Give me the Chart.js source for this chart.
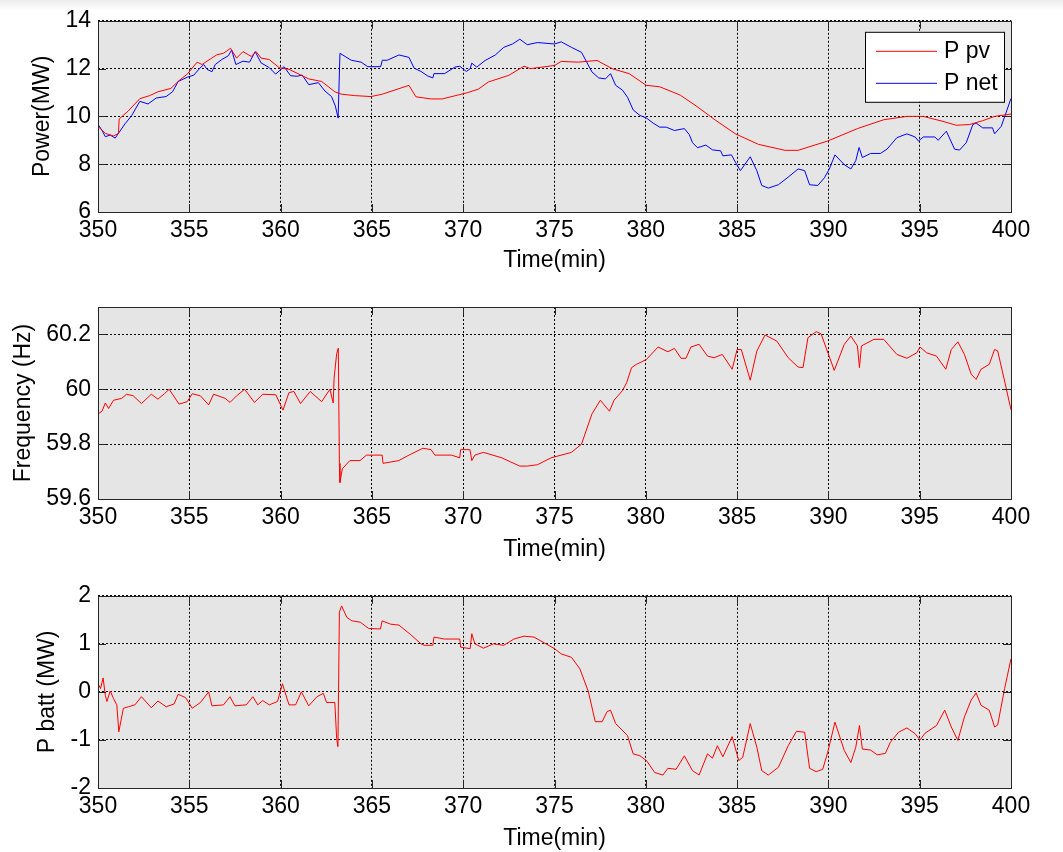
<!DOCTYPE html>
<html>
<head>
<meta charset="utf-8">
<script src="https://cdn.jsdelivr.net/npm/chart.js@4.4.0/dist/chart.umd.min.js"></script>
<style>
  body { margin: 0; background: linear-gradient(#ececec, #ffffff 10px); }
  #wrap { position: relative; width: 1063px; height: 852px; }
  canvas { position: absolute; left: 0; }
</style>
</head>
<body>
<div id="wrap">
  <canvas id="power" width="1063" height="285" style="top:0px"></canvas>
  <canvas id="freq" width="1063" height="290" style="top:285px"></canvas>
  <canvas id="batt" width="1063" height="277" style="top:575px"></canvas>
</div>
<script>
// values (time in min)
var pvTime = [350, 350.4, 350.85, 351.12, 351.16, 351.66, 352.29, 352.83, 353.28, 353.99, 354.44, 354.89, 355.43, 355.7, 355.97, 356.51, 356.87, 357.26, 357.59, 357.94, 358.39, 358.66, 358.93, 359.38, 359.92, 360.46, 361.0, 361.54, 362.25, 362.97, 363.33, 364.05, 364.95, 365.57, 367.03, 367.41, 368.24, 368.85, 370.27, 370.83, 371.38, 372.5, 373.33, 373.69, 375.0, 375.37, 376.3, 377.33, 378.18, 379.09, 380.02, 380.76, 381.89, 382.81, 383.78, 384.91, 386.17, 387.62, 388.34, 389.96, 391.59, 393.03, 394.3, 395.2, 396.28, 397.0, 397.73, 398.45, 399.1, 400];
var pvPower = [9.58, 9.29, 9.18, 9.29, 9.89, 10.23, 10.74, 10.87, 11.03, 11.17, 11.5, 11.77, 12.27, 12.17, 12.31, 12.58, 12.64, 12.85, 12.44, 12.71, 12.51, 12.71, 12.44, 12.38, 12.04, 11.97, 11.77, 11.57, 11.46, 11.03, 10.93, 10.87, 10.83, 10.93, 11.3, 10.82, 10.73, 10.73, 11.0, 11.14, 11.44, 11.72, 12.1, 12.0, 12.13, 12.3, 12.27, 12.34, 11.99, 11.79, 11.3, 11.24, 10.89, 10.41, 9.86, 9.27, 8.83, 8.58, 8.58, 8.97, 9.49, 9.86, 10.0, 10.0, 9.79, 9.63, 9.66, 9.82, 10.0, 10.1];

var netTime = [350, 350.22, 350.4, 350.67, 350.94, 351.12, 351.48, 351.84, 352.29, 352.74, 353.19, 353.73, 354.08, 354.39, 354.89, 355.25, 355.52, 355.79, 355.97, 356.24, 356.42, 356.78, 357.14, 357.32, 357.55, 357.94, 358.3, 358.61, 358.93, 359.38, 359.73, 360.19, 360.55, 360.91, 361.18, 361.54, 362.07, 362.43, 362.79, 363.0, 363.15, 363.25, 363.87, 364.41, 364.77, 365.48, 365.57, 365.84, 366.48, 367.03, 367.31, 367.69, 368.06, 368.34, 368.4, 368.98, 369.54, 369.81, 370.17, 370.38, 370.47, 370.74, 371.2, 371.76, 372.22, 372.7, 373.1, 373.51, 374.07, 375.0, 375.37, 375.93, 376.48, 377.05, 377.42, 377.79, 378.07, 378.35, 378.72, 379.0, 379.31, 379.68, 380.04, 380.4, 380.76, 381.12, 381.57, 382.11, 382.38, 382.56, 382.83, 383.29, 383.65, 384.1, 384.22, 384.69, 384.91, 385.18, 385.72, 386.08, 386.35, 386.71, 387.26, 387.8, 388.34, 388.7, 388.97, 389.42, 389.78, 390.05, 390.36, 390.87, 391.23, 391.5, 391.68, 391.86, 392.31, 392.85, 393.21, 393.75, 394.3, 394.75, 394.93, 395.2, 395.83, 396.01, 396.46, 396.91, 397.18, 397.55, 397.91, 398.09, 398.45, 398.99, 399.1, 399.47, 400];
var netPower = [9.66, 9.42, 9.15, 9.22, 9.09, 9.29, 9.69, 10.03, 10.63, 10.52, 10.77, 10.83, 11.03, 11.46, 11.64, 11.73, 11.97, 12.17, 11.97, 11.87, 12.17, 12.38, 12.54, 12.78, 12.17, 12.31, 12.27, 12.71, 12.24, 12.04, 11.77, 12.08, 11.7, 11.68, 11.73, 11.33, 11.41, 11.06, 10.83, 10.43, 9.93, 12.64, 12.35, 12.27, 12.08, 12.08, 12.35, 12.35, 12.57, 12.47, 12.02, 11.88, 11.69, 11.61, 11.79, 11.79, 12.06, 12.1, 11.88, 11.99, 12.23, 12.06, 12.34, 12.57, 12.89, 13.03, 13.23, 13.0, 13.09, 13.03, 13.12, 12.89, 12.68, 11.86, 11.61, 11.57, 11.79, 11.3, 11.1, 10.8, 10.27, 10.04, 9.93, 9.72, 9.55, 9.55, 9.41, 9.49, 9.24, 8.9, 8.69, 8.8, 8.6, 8.56, 8.35, 8.39, 8.08, 7.73, 8.31, 7.73, 7.11, 7.0, 7.14, 7.46, 7.8, 7.73, 7.14, 7.11, 7.43, 7.8, 8.39, 7.98, 7.8, 8.15, 8.7, 8.28, 8.45, 8.45, 8.63, 9.11, 9.27, 9.14, 8.97, 9.14, 9.14, 9.0, 9.38, 8.63, 8.59, 8.9, 9.66, 9.72, 9.52, 9.52, 9.27, 9.59, 10.75];

var freqTime = [350, 350.22, 350.4, 350.58, 350.85, 351.3, 351.57, 351.93, 352.38, 352.92, 353.28, 353.64, 353.9, 354.44, 354.89, 355.16, 355.61, 356.06, 356.33, 356.96, 357.23, 357.59, 358.03, 358.57, 359.02, 359.74, 360.13, 360.46, 360.73, 361.09, 361.62, 362.25, 362.7, 362.88, 362.93, 363.07, 363.16, 363.22, 363.25, 363.38, 363.79, 364.35, 364.7, 365.56, 365.61, 366.47, 367.03, 367.79, 368.24, 368.45, 369.36, 369.81, 369.86, 370.37, 370.47, 370.64, 371.11, 372.12, 372.6, 373.1, 373.51, 374.07, 374.81, 375.93, 376.48, 377.05, 377.51, 378.01, 378.26, 378.72, 378.95, 379.22, 379.49, 379.77, 380.04, 380.67, 381.21, 381.57, 381.93, 382.2, 382.47, 382.92, 383.38, 383.74, 384.19, 384.73, 385.0, 385.23, 385.72, 386.08, 386.53, 387.17, 387.8, 388.34, 388.61, 388.88, 389.33, 389.6, 389.87, 390.32, 390.87, 391.23, 391.59, 391.7, 391.81, 392.49, 393.03, 393.75, 394.3, 394.84, 395.02, 395.38, 395.92, 396.43, 396.73, 397.09, 397.45, 397.82, 398.09, 398.36, 398.81, 399.1, 399.27, 399.65, 400];
var freqValue = [59.91, 59.92, 59.95, 59.93, 59.96, 59.967, 59.982, 59.976, 59.948, 59.982, 59.964, 59.984, 60.0, 59.946, 59.955, 59.984, 59.976, 59.943, 59.982, 59.967, 59.952, 59.976, 60.0, 59.952, 59.982, 59.98, 59.924, 59.988, 59.992, 59.948, 59.992, 59.955, 60.0, 59.95, 60.04, 60.13, 60.15, 59.73, 59.66, 59.71, 59.74, 59.74, 59.76, 59.76, 59.73, 59.74, 59.76, 59.785, 59.78, 59.76, 59.76, 59.75, 59.78, 59.78, 59.74, 59.76, 59.77, 59.75, 59.735, 59.72, 59.72, 59.725, 59.75, 59.77, 59.8, 59.91, 59.96, 59.92, 59.96, 59.995, 60.024, 60.079, 60.091, 60.1, 60.109, 60.154, 60.137, 60.149, 60.113, 60.113, 60.154, 60.164, 60.121, 60.115, 60.127, 60.073, 60.145, 60.145, 60.033, 60.139, 60.198, 60.176, 60.115, 60.081, 60.079, 60.188, 60.21, 60.202, 60.152, 60.069, 60.164, 60.194, 60.158, 60.079, 60.158, 60.182, 60.182, 60.127, 60.113, 60.133, 60.154, 60.133, 60.121, 60.073, 60.145, 60.173, 60.127, 60.055, 60.036, 60.073, 60.091, 60.145, 60.14, 60.03, 59.925];

var battTime = [350, 350.14, 350.28, 350.4, 350.49, 350.67, 350.85, 351.03, 351.14, 351.39, 351.66, 352.02, 352.38, 352.92, 353.28, 353.73, 354.17, 354.39, 354.8, 355.16, 355.61, 356.06, 356.24, 356.87, 357.23, 357.5, 358.12, 358.48, 358.75, 359.02, 359.38, 359.83, 360.1, 360.46, 360.82, 361.14, 361.54, 361.99, 362.34, 362.52, 362.97, 363.07, 363.14, 363.22, 363.34, 363.63, 363.9, 364.37, 364.82, 365.47, 365.56, 366.02, 366.48, 367.13, 367.69, 367.87, 368.34, 368.4, 368.98, 369.81, 369.86, 370.38, 370.47, 370.64, 371.11, 371.66, 372.22, 372.78, 373.33, 373.88, 374.44, 375.0, 375.37, 375.93, 376.39, 376.86, 377.23, 377.61, 377.88, 378.07, 378.35, 379.0, 379.31, 379.68, 380.04, 380.49, 380.94, 381.21, 381.66, 382.11, 382.56, 382.92, 383.38, 383.65, 383.92, 384.22, 384.73, 385.09, 385.31, 385.72, 386.08, 386.35, 386.71, 387.26, 387.8, 388.25, 388.7, 388.97, 389.33, 389.69, 389.96, 390.36, 390.87, 391.23, 391.5, 391.7, 391.86, 392.31, 392.67, 393.12, 393.39, 393.84, 394.3, 394.75, 395.02, 395.29, 395.92, 396.37, 396.73, 397.09, 397.45, 397.82, 398.09, 398.36, 398.81, 399.1, 399.27, 399.65, 400];
var battPower = [0.17, 0.07, 0.29, -0.07, -0.2, 0.02, -0.14, -0.27, -0.83, -0.34, -0.31, -0.27, -0.1, -0.33, -0.19, -0.31, -0.25, -0.05, -0.12, -0.34, -0.22, 0, -0.29, -0.27, -0.1, -0.29, -0.27, -0.1, -0.27, -0.18, -0.27, -0.2, 0.17, -0.27, -0.27, 0, -0.29, -0.1, -0.03, -0.22, -0.22, -0.97, -1.14, 1.66, 1.79, 1.55, 1.48, 1.45, 1.32, 1.31, 1.48, 1.41, 1.39, 1.19, 1.0, 0.97, 0.97, 1.14, 1.1, 1.1, 0.93, 0.9, 1.21, 1.0, 0.91, 1.0, 0.97, 1.1, 1.16, 1.14, 1.02, 0.9, 0.79, 0.72, 0.48, 0, -0.62, -0.62, -0.41, -0.38, -0.66, -0.91, -1.29, -1.33, -1.43, -1.68, -1.73, -1.59, -1.61, -1.33, -1.64, -1.73, -1.29, -1.38, -1.12, -1.35, -0.93, -1.43, -1.36, -0.66, -1.15, -1.64, -1.73, -1.57, -1.12, -0.82, -0.84, -1.59, -1.66, -1.61, -1.26, -0.63, -1.22, -1.47, -1.15, -0.7, -1.19, -1.21, -1.31, -1.28, -1.05, -0.84, -0.75, -0.87, -1.0, -0.86, -0.7, -0.38, -0.73, -1.01, -0.52, -0.17, -0.02, -0.28, -0.38, -0.73, -0.69, 0.07, 0.69];

var xTicks = { min: 350, max: 400, step: 5 };

var FONT = 'Liberation Sans, Arial, sans-serif';

function points(xs, ys) {
    return xs.map(function (x, i) { return { x: x, y: ys[i] }; });
}

// gray plot box, black frame and inward ticks like the original figure
var boxPlugin = {
    id: 'boxPlugin',
    beforeDraw: function (chart) {
        var a = chart.chartArea, ctx = chart.ctx;
        ctx.save();
        ctx.fillStyle = '#e5e5e5';
        ctx.fillRect(a.left, a.top, a.right - a.left, a.bottom - a.top);
        ctx.restore();
    },
    afterDraw: function (chart) {
        var a = chart.chartArea, ctx = chart.ctx;
        var xs = chart.scales.x, ys = chart.scales.y;
        ctx.save();
        ctx.strokeStyle = '#262626';
        ctx.lineWidth = 1;
        ctx.beginPath();
        xs.ticks.forEach(function (t) {
            var px = Math.round(xs.getPixelForValue(t.value)) + 0.5;
            ctx.moveTo(px, a.bottom); ctx.lineTo(px, a.bottom - 8);
            ctx.moveTo(px, a.top); ctx.lineTo(px, a.top + 8);
        });
        ys.ticks.forEach(function (t) {
            var py = Math.round(ys.getPixelForValue(t.value)) + 0.5;
            ctx.moveTo(a.left, py); ctx.lineTo(a.left + 8, py);
            ctx.moveTo(a.right, py); ctx.lineTo(a.right - 8, py);
        });
        ctx.stroke();
        ctx.strokeRect(Math.round(a.left) + 0.5, Math.round(a.top) + 0.5,
            Math.round(a.right - a.left), Math.round(a.bottom - a.top));
        ctx.restore();
    }
};

// boxed legend in the top right corner (only used on the first plot)
var boxLegend = {
    id: 'boxLegend',
    afterDraw: function (chart, args, opts) {
        if (!opts.show) return;
        var a = chart.chartArea, ctx = chart.ctx;
        var bx = a.right - 146, by = a.top + 11;
        ctx.save();
        ctx.fillStyle = '#ffffff';
        ctx.fillRect(bx, by, 139, 70);
        ctx.strokeStyle = '#000000';
        ctx.lineWidth = 1;
        ctx.strokeRect(bx + 0.5, by + 0.5, 139, 70);
        ctx.font = '23px ' + FONT;
        ctx.textBaseline = 'middle';
        chart.data.datasets.forEach(function (ds, i) {
            var ly = by + 19.5 + i * 32;
            ctx.strokeStyle = ds.borderColor;
            ctx.beginPath();
            ctx.moveTo(bx + 11, ly);
            ctx.lineTo(bx + 72, ly);
            ctx.stroke();
            ctx.fillStyle = '#000000';
            ctx.fillText(ds.label, bx + 79, ly);
        });
        ctx.restore();
    }
};

function makeChart(id, datasets, cfg) {
    var ctx = document.getElementById(id).getContext('2d');
    return new Chart(ctx, {
        type: 'line',
        data: { datasets: datasets },
        options: {
            responsive: false,
            animation: false,
            devicePixelRatio: 1,
            layout: { padding: { top: cfg.top, right: 52, left: 0, bottom: 0 } },
            elements: { point: { radius: 0 }, line: { borderWidth: 1, tension: 0 } },
            plugins: {
                legend: { display: false },
                tooltip: { enabled: false },
                boxLegend: { show: !!cfg.legend }
            },
            scales: {
                x: {
                    type: 'linear',
                    min: xTicks.min,
                    max: xTicks.max,
                    afterFit: function (s) { s.height = cfg.xHeight; },
                    ticks: {
                        stepSize: xTicks.step,
                        padding: 5,
                        maxRotation: 0,
                        autoSkip: false,
                        color: '#000',
                        font: { family: FONT, size: 23 }
                    },
                    grid: { color: '#000', lineWidth: 1, drawTicks: false },
                    border: { display: false, dash: [2, 2] },
                    title: {
                        display: true,
                        text: 'Time(min)',
                        color: '#000',
                        padding: { top: 0, bottom: cfg.titlePad },
                        font: { family: FONT, size: 23 }
                    }
                },
                y: {
                    type: 'linear',
                    min: cfg.yMin,
                    max: cfg.yMax,
                    afterFit: function (s) { s.width = 98; },
                    ticks: {
                        stepSize: cfg.yStep,
                        includeBounds: false,
                        padding: 7,
                        color: '#000',
                        font: { family: FONT, size: 23 },
                        callback: function (v) { return String(Number(v.toFixed(1))); }
                    },
                    grid: { color: '#000', lineWidth: 1, drawTicks: false },
                    border: { display: false, dash: [2, 2] },
                    title: {
                        display: true,
                        text: cfg.yTitle,
                        color: '#000',
                        padding: { top: cfg.yTitlePad, bottom: 0 },
                        font: { family: FONT, size: 23 }
                    }
                }
            }
        },
        plugins: [boxPlugin, boxLegend]
    });
}

window.onload = function () {
    makeChart('power', [
        { label: 'P pv', data: points(pvTime, pvPower), borderColor: 'rgb(255, 0, 0)' },
        { label: 'P net', data: points(netTime, netPower), borderColor: 'rgb(0, 0, 255)' }
    ], { top: 18, xHeight: 73, titlePad: 11, yMin: 6, yMax: 14, yStep: 2, yTitle: 'Power(MW)', yTitlePad: 29, legend: true });

    makeChart('freq', [
        { label: 'Frequency', data: points(freqTime, freqValue), borderColor: 'rgb(255, 0, 0)' }
    ], { top: 22, xHeight: 76, titlePad: 12, yMin: 59.6, yMax: 60.3, yStep: 0.2, yTitle: 'Frequency (Hz)', yTitlePad: 10 });

    makeChart('batt', [
        { label: 'P batt', data: points(battTime, battPower), borderColor: 'rgb(255, 0, 0)' }
    ], { top: 20, xHeight: 64, titlePad: 0, yMin: -2, yMax: 2, yStep: 1, yTitle: 'P batt (MW)', yTitlePad: 34 });
};
</script>
</body>
</html>
